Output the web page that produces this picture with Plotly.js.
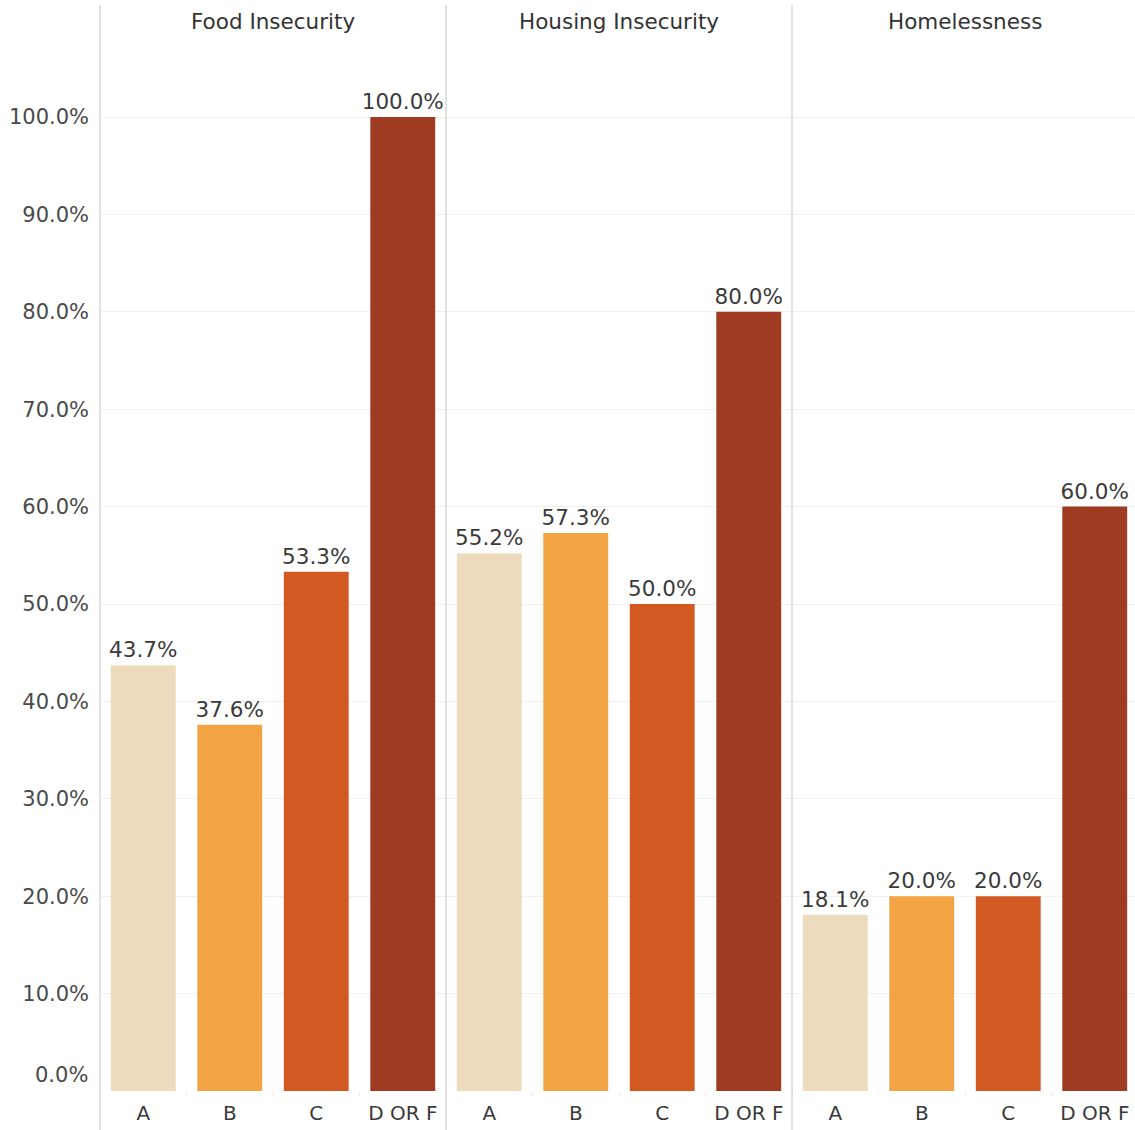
<!DOCTYPE html>
<html>
<head>
<meta charset="utf-8">
<script src="https://cdn.plot.ly/plotly-3.0.1.min.js"></script>
<style>
  html, body { margin: 0; padding: 0; background: #ffffff; overflow: hidden; }
  #chart { width: 1135px; height: 1130px; }
</style>
</head>
<body>
<div id="chart"></div>
<script>
// Share of students reporting each hardship, by grade band
const grades = ['A', 'B', 'C', 'D OR F'];
const panelTitles = ['Food Insecurity', 'Housing Insecurity', 'Homelessness'];
const foodInsecurity = [43.7, 37.6, 53.3, 100.0];
const housingInsecurity = [55.2, 57.3, 50.0, 80.0];
const homelessness = [18.1, 20.0, 20.0, 60.0];
const gradeColors = ['#EEDBBD', '#F2A445', '#D35923', '#9F3B21'];
const yTickValues = [10, 20, 30, 40, 50, 60, 70, 80, 90, 100];
const yTickLabels = ['10.0%', '20.0%', '30.0%', '40.0%', '50.0%', '60.0%', '70.0%', '80.0%', '90.0%', '100.0%'];
const yZeroValue = 0;
const yZeroLabel = '0.0%';

const W = 1135, H = 1130;
const FONT = 'DejaVu Sans, Open Sans, sans-serif';
const panelEdges = [100, 446, 792, 1138];   // pixel edges of the three panels
const plotBottom = 1091, plotTop = 5;
const yMax = 111.5;
const bandPx = (panelEdges[1] - panelEdges[0]) / grades.length;

const seriesList = [foodInsecurity, housingInsecurity, homelessness];
const axisIds = ['x', 'x2', 'x3'];

const traces = seriesList.map((vals, i) => ({
  type: 'bar',
  x: grades,
  y: vals,
  xaxis: axisIds[i],
  yaxis: 'y',
  marker: { color: gradeColors, line: { width: 0 } },
  text: vals.map(v => v.toFixed(1) + '%'),
  textposition: 'outside',
  constraintext: 'none',
  textfont: { family: FONT, size: 21.5, color: '#3a3a3a' },
  cliponaxis: false,
  hoverinfo: 'x+y',
  showlegend: false
}));

function xAxis(i) {
  const left = panelEdges[i];
  const right = Math.min(panelEdges[i + 1], W);
  const span = (right - left) / bandPx;
  return {
    domain: [left / W, right / W],
    anchor: 'y',
    type: 'category',
    categoryorder: 'array',
    categoryarray: grades,
    range: [-0.5, -0.5 + span],
    showgrid: false,
    zeroline: false,
    showline: false,
    ticks: 'outside',
    tickson: 'boundaries',
    ticklen: 4,
    tickcolor: '#ececec',
    ticklabelstandoff: 8,
    tickfont: { family: FONT, size: 20, color: '#3a3a3a' },
    fixedrange: true
  };
}

const yDomain = [(H - plotBottom) / H, (H - plotTop) / H];
const tickFont = { family: FONT, size: 21, color: '#4a4a4a' };

const layout = {
  width: W,
  height: H,
  margin: { l: 0, r: 0, t: 0, b: 0, pad: 0 },
  paper_bgcolor: '#ffffff',
  plot_bgcolor: '#ffffff',
  bargap: 0.25,
  font: { family: FONT, color: '#333333' },
  xaxis: xAxis(0),
  xaxis2: xAxis(1),
  xaxis3: xAxis(2),
  yaxis: {
    domain: yDomain,
    anchor: 'x',
    range: [0, yMax],
    tickmode: 'array',
    tickvals: yTickValues,
    ticktext: yTickLabels,
    showgrid: true,
    gridcolor: '#f0f0f0',
    gridwidth: 1,
    zeroline: false,
    showline: false,
    ticks: '',
    ticklabelstandoff: 10,
    tickfont: tickFont,
    fixedrange: true
  },
  shapes: panelEdges.slice(0, 3).map(px => ({
    type: 'line',
    xref: 'paper', yref: 'paper',
    x0: px / W, x1: px / W,
    y0: 0, y1: 1 - plotTop / H,
    line: { color: '#d2d2d2', width: 1.3 },
    layer: 'above'
  })),
  annotations: panelTitles.map((t, i) => ({
    text: t,
    xref: axisIds[i] + ' domain',
    yref: 'paper',
    x: (bandPx * 2) / (Math.min(panelEdges[i + 1], W) - panelEdges[i]),
    y: 1 - 21 / H,
    xanchor: 'center',
    yanchor: 'middle',
    showarrow: false,
    font: { family: FONT, size: 21.5, color: '#333333' }
  })).concat([{
    // the zero label sits just above the baseline
    text: yZeroLabel,
    xref: 'paper',
    yref: 'y',
    x: 90 / W,
    y: yZeroValue,
    xanchor: 'right',
    yanchor: 'middle',
    yshift: 16,
    showarrow: false,
    font: tickFont
  }])
};

Plotly.newPlot('chart', traces, layout, { staticPlot: true, displayModeBar: false });
</script>
</body>
</html>
